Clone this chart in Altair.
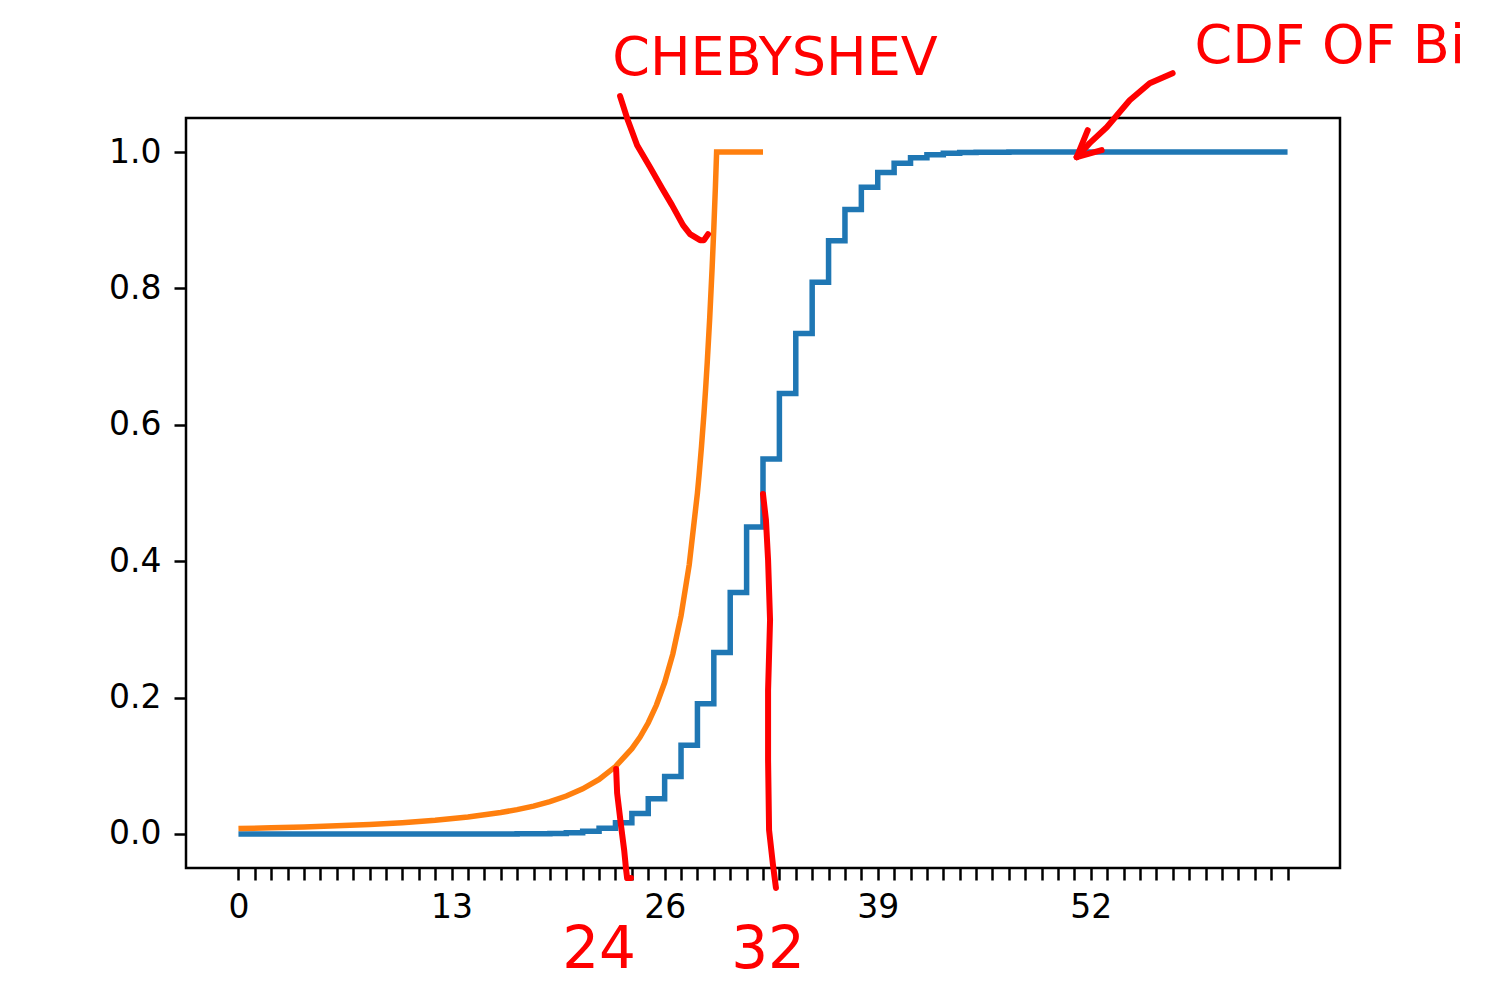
import altair as alt
import pandas as pd

# ---- data ----
binom_k = list(range(65))
binom_cdf = [0.0, 0.0, 0.0, 0.0, 0.0, 0.0, 0.0, 0.0, 0.0, 0.0,
             0.0, 0.0, 0.0, 0.0, 0.0, 0.0, 0.0, 0.0001, 0.0002, 0.0007,
             0.0018, 0.0040, 0.0084, 0.0163, 0.0299, 0.0517, 0.0843, 0.1302, 0.1908, 0.2661,
             0.3540, 0.4503, 0.5497, 0.6460, 0.7339, 0.8092, 0.8698, 0.9157, 0.9483, 0.9701,
             0.9837, 0.9916, 0.9960, 0.9982, 0.9993, 0.9998, 0.9999, 1.0, 1.0, 1.0,
             1.0, 1.0, 1.0, 1.0, 1.0, 1.0, 1.0, 1.0, 1.0, 1.0,
             1.0, 1.0, 1.0, 1.0, 1.0]

cheb_x = [0, 2, 4, 6, 8, 10, 12, 14, 16, 17, 18, 19, 20, 21, 22, 23, 24, 24.5, 25, 25.5,
          26, 26.5, 27, 27.5, 28, 28.1, 28.25, 28.4, 28.5, 28.6, 28.75, 28.9, 29, 29.1, 29.17,
          30, 31, 32]
cheb_y = [0.0078, 0.0089, 0.0102, 0.0118, 0.0139, 0.0165, 0.020, 0.0247, 0.0313, 0.0356,
          0.0408, 0.0473, 0.0556, 0.0661, 0.080, 0.0988, 0.125, 0.142, 0.163, 0.189,
          0.222, 0.264, 0.320, 0.395, 0.500, 0.526, 0.569, 0.617, 0.653, 0.692, 0.757, 0.832,
          0.889, 0.951, 1.0, 1.0, 1.0, 1.0]

x_tick_values = list(range(65))
x_label_values = [0, 13, 26, 39, 52]
y_tick_values = [0.0, 0.2, 0.4, 0.6, 0.8, 1.0]

# hand-drawn annotation strokes (data units)
stroke_24_x = [23.04, 23.10, 23.35, 23.53, 23.65, 23.71, 23.95]
stroke_24_y = [0.0952, 0.060, 0.0101, -0.0236, -0.0529, -0.0647, -0.0647]
stroke_32_x = [32.00, 32.18, 32.31, 32.43, 32.31, 32.31, 32.37, 32.61, 32.79]
stroke_32_y = [0.4984, 0.4603, 0.4016, 0.3136, 0.2110, 0.1084, 0.0057, -0.0456, -0.0793]
arrow_cheb_x = [23.28, 23.71, 24.32, 25.11, 25.84, 26.45, 27.12, 27.55, 28.16, 28.40, 28.65]
arrow_cheb_y = [1.082, 1.0497, 1.0101, 0.9779, 0.9471, 0.9222, 0.8928, 0.8796, 0.8708, 0.8708, 0.8796]
arrow_cdf_x = [56.99, 55.59, 54.37, 52.97, 51.93, 51.14]
arrow_cdf_y = [1.1157, 1.1010, 1.0761, 1.0365, 1.0131, 0.9926]
barb1_x = [51.81, 51.14]
barb1_y = [1.0321, 0.9926]
barb2_x = [51.14, 52.66]
barb2_y = [0.9926, 1.0028]

label_center_text = ["CHEBYSHEV", "24", "32"]
label_center_x = [32.73, 22.00, 32.31]
label_center_y = [1.113, -0.197, -0.197]
label_center_size = [54, 58, 58]
label_left_text = ["CDF OF Bi"]
label_left_x = [58.33]
label_left_y = [1.130]
label_left_size = [54]

# ---- tables ----
binom_df = pd.DataFrame({"x": binom_k, "y": binom_cdf})
cheb_df = pd.DataFrame({"x": cheb_x, "y": cheb_y})

rows = []
for sid, xs, ys in [("s24", stroke_24_x, stroke_24_y), ("s32", stroke_32_x, stroke_32_y),
                    ("ach", arrow_cheb_x, arrow_cheb_y), ("acdf", arrow_cdf_x, arrow_cdf_y),
                    ("b1", barb1_x, barb1_y), ("b2", barb2_x, barb2_y)]:
    for i, (a, b) in enumerate(zip(xs, ys)):
        rows.append({"id": sid, "o": i, "x": a, "y": b})
ann_df = pd.DataFrame(rows)
txt_c_df = pd.DataFrame({"t": label_center_text, "x": label_center_x, "y": label_center_y,
                         "fs": label_center_size})
txt_l_df = pd.DataFrame({"t": label_left_text, "x": label_left_x, "y": label_left_y,
                         "fs": label_left_size})

xscale = alt.Scale(domain=[-3.2, 67.2], nice=False, zero=False)
yscale = alt.Scale(domain=[-0.05, 1.05], nice=False, zero=False)

FONT = "DejaVu Sans"

x_axis = alt.Axis(values=x_tick_values, title=None, grid=False, domain=False,
                  labelExpr="datum.value % 13 === 0 ? datum.label : ''",
                  labelOverlap=False, labelFlush=False, labelFontSize=33, labelFont=FONT,
                  labelColor="black", tickColor="black", tickWidth=2.5, tickSize=12,
                  labelPadding=11)
y_axis = alt.Axis(values=y_tick_values, format=".1f", title=None, grid=False, domain=False,
                  labelFontSize=33, labelFont=FONT, labelColor="black", tickColor="black",
                  tickWidth=2.5, tickSize=12, labelPadding=13)

X = alt.X("x:Q", scale=xscale, axis=x_axis)
Y = alt.Y("y:Q", scale=yscale, axis=y_axis)

blue = alt.Chart(binom_df).mark_line(interpolate="step-after", color="#1f77b4",
                                     strokeWidth=5.5).encode(x=X, y=Y)
orange = alt.Chart(cheb_df).mark_line(color="#ff7f0e", strokeWidth=5.5).encode(x=X, y=Y)
ann = alt.Chart(ann_df).mark_line(color="#ff0000", strokeWidth=6, strokeCap="round",
                                  strokeJoin="round", clip=False).encode(
    x=X, y=Y, detail="id:N", order="o:Q",
)
txt_c = alt.Chart(txt_c_df).mark_text(color="#ff0000", font=FONT, align="center",
                                      baseline="alphabetic", clip=False).encode(
    x=X, y=Y, text="t:N",
    size=alt.Size("fs:Q", scale=None, legend=None),
)
txt_l = alt.Chart(txt_l_df).mark_text(color="#ff0000", font=FONT, align="left",
                                      baseline="alphabetic", clip=False).encode(
    x=X, y=Y, text="t:N",
    size=alt.Size("fs:Q", scale=None, legend=None),
)

chart = alt.layer(blue, orange, ann, txt_c, txt_l).properties(
    width=1154, height=750,
    padding={"left": 186, "top": 118, "right": 147, "bottom": 122},
    autosize=alt.AutoSizeParams(type="none"),
    background="white",
).configure_view(stroke="black", strokeWidth=2.5)

chart.save("out.html", embed_options={"renderer": "svg", "actions": False})
